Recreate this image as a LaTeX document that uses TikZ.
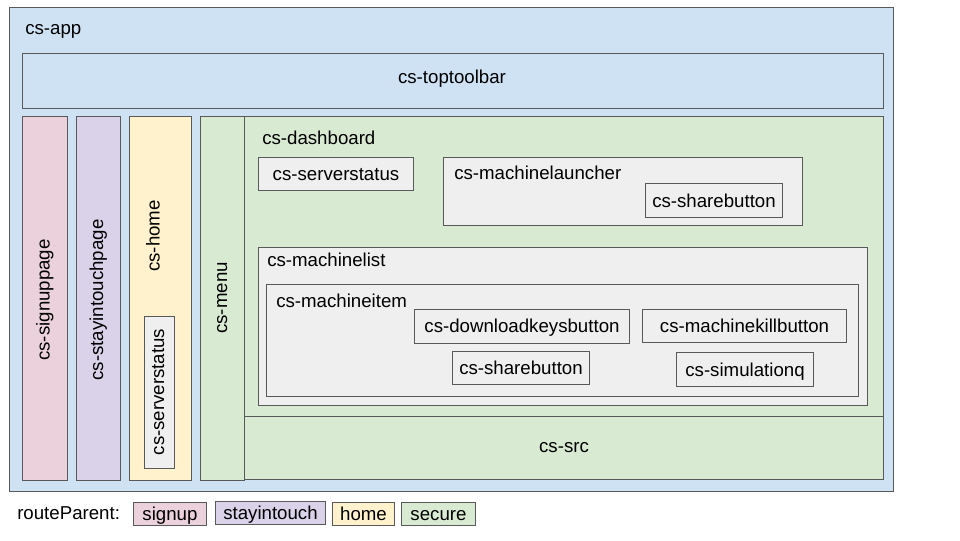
\documentclass[tikz,border=0pt]{standalone}
\usepackage{fontspec}
\setmainfont{Liberation Sans}
\usepackage{tikz}

\definecolor{appblue}{HTML}{CFE2F3}
\definecolor{signpink}{HTML}{EAD1DC}
\definecolor{staypurple}{HTML}{D9D2E9}
\definecolor{homeyellow}{HTML}{FFF2CC}
\definecolor{securegreen}{HTML}{D9EAD3}
\definecolor{partgray}{HTML}{EFEFEF}
\definecolor{edgegray}{HTML}{595959}

\tikzset{
  box/.style={draw=edgegray,line width=0.75pt},
  lbl/.style={font=\fontsize{14}{16}\selectfont,inner sep=0pt,text height=13pt,text depth=3pt}
}

\begin{document}
\begin{tikzpicture}[x=0.75pt,y=-0.75pt]
\useasboundingbox (0,0) rectangle (960,540);
% outer app and toolbar
\draw[box,fill=appblue] (9.5,7.5) rectangle (893.5,491);
\node[lbl,anchor=west] (app) at (25,28) {cs-app};
\draw[box,fill=appblue] (22.5,53.5) rectangle (883.5,108.5);
\node[lbl] (toolbar) at (452,76.5) {cs-toptoolbar};
% route columns
\draw[box,fill=signpink] (22.5,116.5) rectangle (67.5,480);
\node[lbl,rotate=90] (signup) at (43,300) {cs-signuppage};
\draw[box,fill=staypurple] (76.5,116.5) rectangle (120.5,480);
\node[lbl,rotate=90] (stay) at (96.5,300) {cs-stayintouchpage};
\draw[box,fill=homeyellow] (129.5,116.5) rectangle (191.5,480);
\node[lbl,rotate=90] (home) at (153,236) {cs-home};
\draw[box,fill=partgray] (144.5,316.5) rectangle (174.5,468);
\node[lbl,rotate=90] (homestat) at (157.5,392) {cs-serverstatus};
\draw[box,fill=securegreen] (200.5,116.5) rectangle (244.5,480);
\node[lbl,rotate=90] (menu) at (220.5,298) {cs-menu};
% secure area
\draw[box,fill=securegreen] (244.5,116.5) rectangle (883.5,416);
\node[lbl,anchor=west] (dash) at (262,137.5) {cs-dashboard};
\draw[box,fill=securegreen] (244.5,416) rectangle (883.5,479.5);
\node[lbl] (src) at (564,445.5) {cs-src};
\draw[box,fill=partgray] (258.5,157.5) rectangle (413.5,190.5);
\node[lbl] (dashstat) at (336,173.5) {cs-serverstatus};
\draw[box,fill=partgray] (443.5,157.5) rectangle (802.5,225);
\node[lbl,anchor=west] (launcher) at (454,173) {cs-machinelauncher};
\draw[box,fill=partgray] (645.5,183.5) rectangle (782.5,217.5);
\node[lbl] (launchshare) at (714,201) {cs-sharebutton};
% machine list
\draw[box,fill=partgray] (258.5,247.5) rectangle (867.5,405);
\node[lbl,anchor=west] (mlist) at (267,260) {cs-machinelist};
\draw[box,fill=partgray] (266.5,284.5) rectangle (858.5,396);
\node[lbl,anchor=west] (mitem) at (276,300.5) {cs-machineitem};
\draw[box,fill=partgray] (414.5,309.5) rectangle (629.5,343.5);
\node[lbl] (keys) at (522,326) {cs-downloadkeysbutton};
\draw[box,fill=partgray] (452.5,351) rectangle (589.5,384.5);
\node[lbl] (itemshare) at (521,368) {cs-sharebutton};
\draw[box,fill=partgray] (642.5,309.5) rectangle (846.5,342.5);
\node[lbl] (kill) at (744.5,326) {cs-machinekillbutton};
\draw[box,fill=partgray] (676.5,352.5) rectangle (813.5,386);
\node[lbl] (simq) at (745,369.5) {cs-simulationq};
% legend
\node[lbl,anchor=west] (route) at (17,513) {routeParent:};
\draw[box,fill=signpink] (133.5,502) rectangle (206.5,525.5);
\node[lbl] (lsign) at (170,513.5) {signup};
\draw[box,fill=staypurple] (215.5,501.5) rectangle (325.5,524.5);
\node[lbl] (lstay) at (270.5,512.5) {stayintouch};
\draw[box,fill=homeyellow] (332.5,502) rectangle (394.5,525.5);
\node[lbl] (lhome) at (363.5,513.5) {home};
\draw[box,fill=securegreen] (401.5,502) rectangle (475.5,525.5);
\node[lbl] (lsecure) at (438.5,513.5) {secure};
\end{tikzpicture}
\end{document}
